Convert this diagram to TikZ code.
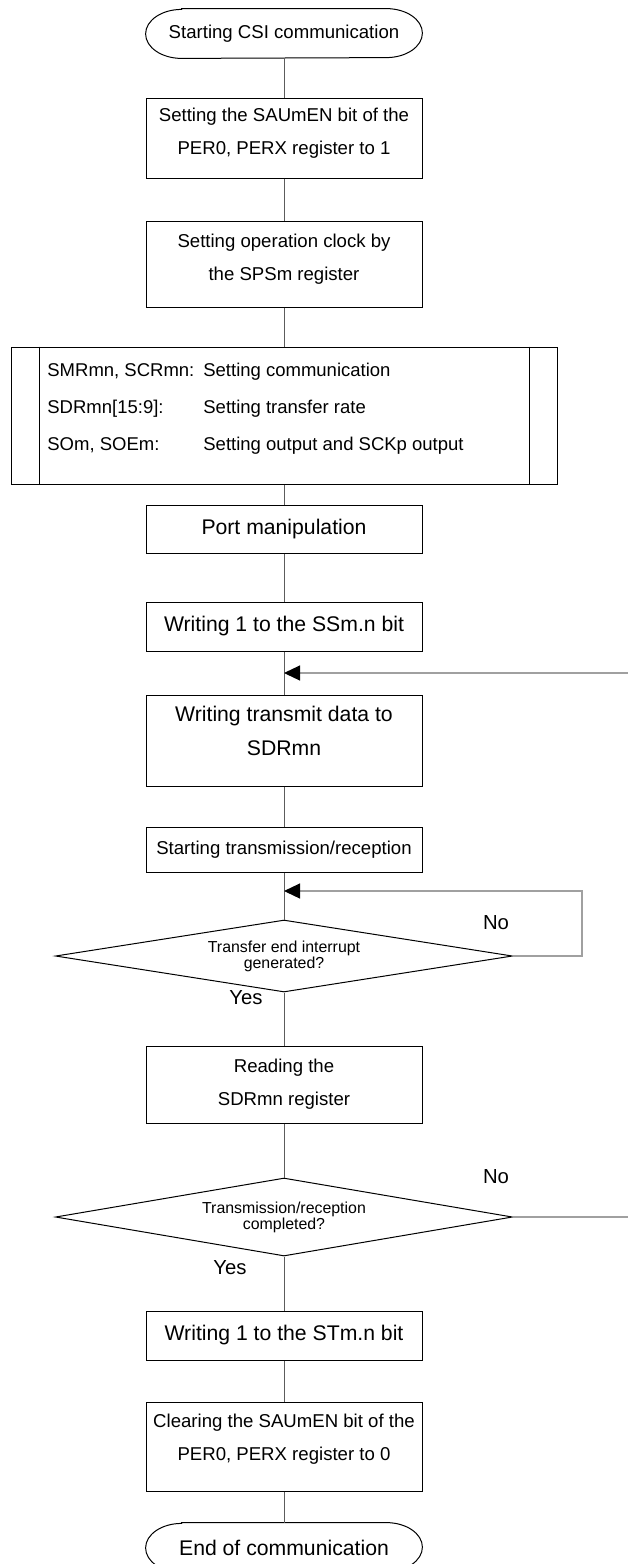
\documentclass[tikz,border=0pt]{standalone}
\usepackage{fontspec}
\setmainfont{Liberation Sans}
\usetikzlibrary{arrows.meta,shapes.geometric}
\definecolor{linkgray}{HTML}{5C5C5C}
\definecolor{loopgray}{HTML}{A0A0A0}
\newcommand\procfont{\fontsize{9.3}{16.5}\selectfont}
\newcommand\procbigfont{\fontsize{10.6}{17}\selectfont}
\newcommand\regfont{\fontsize{9.25}{18.5}\selectfont}
\newcommand\decfont{\fontsize{7.95}{8}\selectfont}
\newcommand\ansfont{\fontsize{10.15}{12}\selectfont}

\begin{document}
\begin{tikzpicture}[x=0.5pt,y=-0.5pt,
    procbox/.style={draw,line width=0.5pt,minimum width=138pt,align=center,inner sep=0pt},
    termbox/.style={minimum width=138pt,minimum height=24.5pt,inner sep=0pt},
    decbox/.style={draw,diamond,aspect=6,line width=0.5pt,minimum width=228.5pt,
                   inner sep=0pt,align=center,font=\decfont},
    link/.style={draw=linkgray,line width=0.5pt},
    backlink/.style={draw=loopgray,line width=0.6pt,
                     -{Triangle[length=8pt,width=7.5pt,color=black]}},
    answer/.style={inner sep=0pt,font=\ansfont}]
  \useasboundingbox (0,0) rectangle (627,1564);

  \node[termbox,font=\procfont] (begin) at (284,33.5) {Starting CSI communication};
  \node[procbox,minimum height=40pt,font=\procfont,text depth=6.6pt] (perset) at (284,138)
    {Setting the SAUmEN bit of the\\PER0, PERX register to 1};
  \node[procbox,minimum height=43pt,font=\procfont,text depth=6.6pt] (clock) at (284,264)
    {Setting operation clock by\\the SPSm register};

  % register setting block
  \node[draw,line width=0.5pt,minimum width=273pt,minimum height=68.5pt,inner sep=0pt]
    (regs) at (284,415.5) {};
  \draw[line width=0.5pt] ([xshift=14.5pt]regs.north west) -- ([xshift=14.5pt]regs.south west);
  \draw[line width=0.5pt] ([xshift=-14pt]regs.north east) -- ([xshift=-14pt]regs.south east);
  \node[anchor=north west,inner sep=0pt,font=\regfont] (regtext) at (47,350)
    {\begin{tabular}{@{}p{78pt}@{}l@{}}
       SMRmn, SCRmn: & Setting communication\\
       SDRmn[15:9]:  & Setting transfer rate\\
       SOm, SOEm:    & Setting output and SCKp output
     \end{tabular}};

  \node[procbox,minimum height=24pt,font=\procbigfont] (port) at (284,529) {Port manipulation};
  \node[procbox,minimum height=24.5pt,font=\procbigfont] (ssbit) at (284,626.5)
    {Writing 1 to the SSm.n bit};
  \coordinate (rejoin) at (284,673);
  \node[procbox,minimum height=45.5pt,font=\procbigfont,text depth=9.6pt] (txdata) at (284,740.5)
    {Writing transmit data to\\SDRmn};
  \node[procbox,minimum height=22.5pt,font=\procfont] (txstart) at (284,849.5)
    {Starting transmission/reception};
  \coordinate (retry) at (284,891);

  \node[decbox,minimum height=36pt] (endint) at (284,956)
    {Transfer end interrupt\\generated?};
  \node[answer] (yes1) at (246,998) {Yes};
  \node[answer] (no1) at (496,923) {No};

  \node[procbox,minimum height=38.5pt,font=\procfont] (readsdr) at (284,1084.5)
    {Reading the\\SDRmn register};

  \node[decbox,minimum height=39pt] (alldone) at (284,1217)
    {Transmission/reception\\completed?};
  \node[answer] (yes2) at (230,1268) {Yes};
  \node[answer] (no2) at (496,1177) {No};

  \node[procbox,minimum height=24.5pt,font=\procbigfont] (stbit) at (284,1335.5)
    {Writing 1 to the STm.n bit};
  \node[procbox,minimum height=44.5pt,font=\procfont,text depth=9pt] (perclr) at (284,1446.5)
    {Clearing the SAUmEN bit of the\\PER0, PERX register to 0};
  \node[termbox,font=\procbigfont] (finish) at (284,1547.5) {End of communication};

  % terminal outlines with elliptic ends
  \foreach \t in {begin,finish}
    \draw[line width=0.5pt] ([xshift=18pt]\t.north west) -- ([xshift=-18pt]\t.north east)
      arc[start angle=90,end angle=-90,x radius=18pt,y radius=12.25pt]
      -- ([xshift=18pt]\t.south west)
      arc[start angle=270,end angle=90,x radius=18pt,y radius=12.25pt] -- cycle;

  % main flow
  \foreach \a/\b in {begin/perset,perset/clock,clock/regs,regs/port,port/ssbit,
                     ssbit/txdata,txdata/txstart,txstart/endint,endint/readsdr,
                     readsdr/alldone,alldone/stbit,stbit/perclr,perclr/finish}
    \draw[link] (\a.south) -- (\b.north);

  % loops back
  \draw[backlink] (endint.east) -- ++(69,0) |- (retry);
  \draw[backlink] (alldone.east) -- ++(160,0) |- (rejoin);
\end{tikzpicture}
\end{document}
